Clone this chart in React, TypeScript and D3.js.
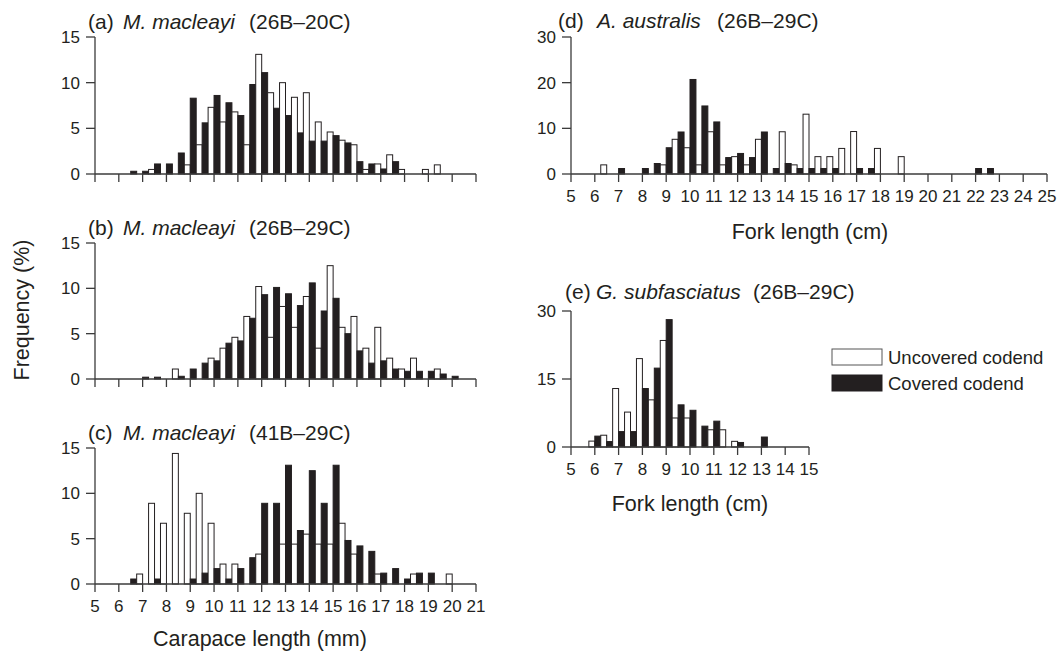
import React from 'react';
import * as d3 from 'd3';

// ---------- data (bin mid-points; uncovered bar drawn left of mid, covered right) ----------
const sizesMm = [6.5, 7, 7.5, 8, 8.5, 9, 9.5, 10, 10.5, 11, 11.5, 12, 12.5, 13, 13.5, 14, 14.5, 15, 15.5, 16, 16.5, 17, 17.5, 18, 18.5, 19, 19.5, 20];

const aUncovered = [0, 0, 0.5, 0, 0, 1.0, 3.2, 7.3, 5.7, 6.8, 3.2, 13.1, 8.9, 10.0, 8.4, 8.9, 5.7, 4.6, 3.7, 3.2, 0.5, 1.1, 2.1, 0.5, 0, 0.5, 1.0, 0];
const aCovered = [0.3, 0.3, 1.1, 1.1, 2.3, 8.3, 5.6, 8.6, 7.8, 6.4, 9.8, 11.1, 7.2, 6.4, 4.5, 3.6, 3.6, 4.2, 3.4, 1.35, 1.1, 0.55, 1.35, 0, 0, 0, 0, 0];

const bUncovered = [0, 0, 0, 0, 1.1, 0, 0, 2.3, 3.4, 4.6, 6.9, 10.2, 4.6, 8.0, 5.7, 9.1, 3.4, 12.5, 5.7, 6.9, 3.4, 5.7, 2.3, 1.1, 2.3, 0, 1.1, 0];
const bCovered = [0, 0.2, 0.2, 0, 0.3, 1.1, 1.75, 2.0, 3.95, 4.2, 6.7, 9.3, 10.1, 9.4, 8.1, 10.6, 7.5, 8.9, 5.0, 3.1, 1.75, 2.0, 1.1, 0.85, 0.85, 0.85, 0.55, 0.3];

const cUncovered = [0, 1.1, 8.9, 6.7, 14.4, 7.8, 10.0, 6.7, 2.2, 2.2, 0, 3.3, 0, 4.4, 4.4, 5.5, 4.4, 4.4, 6.7, 3.3, 0, 1.1, 0, 0, 1.1, 0, 0, 1.1];
const cCovered = [0.55, 0, 0.55, 0, 0, 0.55, 1.2, 1.7, 0.55, 1.7, 2.9, 8.9, 8.9, 13.1, 5.9, 12.5, 8.9, 13.1, 4.8, 4.2, 3.6, 1.2, 1.7, 0.55, 1.2, 1.2, 0, 0];

const sizesD = [6.5, 7, 7.5, 8, 8.5, 9, 9.5, 10, 10.5, 11, 11.5, 12, 12.5, 13, 13.5, 14, 14.5, 15, 15.5, 16, 16.5, 17, 17.5, 18, 18.5, 19, 19.5, 20, 20.5, 21, 21.5, 22, 22.5];
const dUncovered = [2.0, 0, 0, 0, 0, 2.0, 7.6, 5.75, 2.0, 9.25, 2.0, 3.8, 2.0, 7.6, 0, 9.25, 2.0, 13.1, 3.8, 3.8, 5.6, 9.3, 0, 5.6, 0, 3.8, 0, 0, 0, 0, 0, 0, 0];
const dCovered = [0, 1.2, 0, 1.2, 2.3, 5.75, 9.2, 20.7, 14.9, 11.4, 3.6, 4.5, 3.6, 9.2, 1.2, 2.3, 1.2, 1.2, 1.2, 1.2, 0, 1.2, 1.2, 0, 0, 0, 0, 0, 0, 0, 0, 1.2, 1.2];

const sizesE = [6, 6.5, 7, 7.5, 8, 8.5, 9, 9.5, 10, 10.5, 11, 11.5, 12, 12.5, 13];
const eUncovered = [1.3, 2.6, 12.9, 7.7, 19.5, 10.4, 23.5, 6.4, 6.4, 0, 3.8, 3.8, 1.25, 0, 0];
const eCovered = [2.4, 1.2, 3.4, 3.4, 12.9, 17.4, 28.1, 9.3, 8.1, 4.6, 5.7, 0, 1.0, 0, 2.2];

const xTicksMm = [5, 6, 7, 8, 9, 10, 11, 12, 13, 14, 15, 16, 17, 18, 19, 20, 21];
const xTicksD = [5, 6, 7, 8, 9, 10, 11, 12, 13, 14, 15, 16, 17, 18, 19, 20, 21, 22, 23, 24, 25];
const xTicksE = [5, 6, 7, 8, 9, 10, 11, 12, 13, 14, 15];
const yTicksMm = [0, 5, 10, 15];
const yTicksD = [0, 10, 20, 30];
const yTicksE = [0, 15, 30];

const legendLabels = ['Uncovered codend', 'Covered codend'];

// ---------- styling ----------
const INK = '#231f20';
const AXIS = '#3b3b3b';
const FONT = '"Liberation Sans", Arial, Helvetica, sans-serif';
const TICK_FS = 17;
const TITLE_FS = 21;
const AXT_FS = 21.5;

type PanelProps = {
  x0: number; x1: number; yTop: number; yBase: number;
  xDomain: [number, number]; yMax: number;
  xTicks: number[]; yTicks: number[]; showXLabels: boolean;
  sizes: number[]; unc: number[]; cov: number[];
  binW: number;
};

function Panel(p: PanelProps) {
  const x = d3.scaleLinear().domain(p.xDomain).range([p.x0, p.x1]);
  const y = d3.scaleLinear().domain([0, p.yMax]).range([p.yBase, p.yTop]);
  const half = p.binW / 2;
  return (
    <g>
      {p.sizes.map((s, i) => (
        <g key={i}>
          {p.unc[i] > 0 && (
            <rect x={x(s - half)} y={y(p.unc[i])} width={x(s) - x(s - half)} height={y(0) - y(p.unc[i])}
              fill="#ffffff" stroke={INK} strokeWidth={1} />
          )}
          {p.cov[i] > 0 && (
            <rect x={x(s)} y={y(p.cov[i])} width={x(s + half) - x(s)} height={y(0) - y(p.cov[i])}
              fill={INK} stroke={INK} strokeWidth={1} />
          )}
        </g>
      ))}
      <line x1={x(p.xDomain[0])} x2={x(p.xDomain[0])} y1={y(p.yMax)} y2={y(0)} stroke={AXIS} strokeWidth={1.3} />
      <line x1={x(p.xDomain[0])} x2={x(p.xDomain[1])} y1={y(0)} y2={y(0)} stroke={AXIS} strokeWidth={1.3} />
      {p.xTicks.map((t) => (
        <g key={'xt' + t}>
          <line x1={x(t)} x2={x(t)} y1={y(0)} y2={y(0) + 8} stroke={AXIS} strokeWidth={1.3} />
          {p.showXLabels && (
            <text x={x(t)} y={y(0) + 28} textAnchor="middle" fontSize={TICK_FS} fill={INK} fontFamily={FONT}>{t}</text>
          )}
        </g>
      ))}
      {p.yTicks.map((t) => (
        <g key={'yt' + t}>
          <line x1={x(p.xDomain[0]) - 9} x2={x(p.xDomain[0])} y1={y(t)} y2={y(t)} stroke={AXIS} strokeWidth={1.3} />
          <text x={x(p.xDomain[0]) - 15} y={y(t) + 6} textAnchor="end" fontSize={TICK_FS} fill={INK} fontFamily={FONT}>{t}</text>
        </g>
      ))}
    </g>
  );
}

function Title({ x, y, tag, species, code, sx, cx }: { x: number; y: number; tag: string; species: string; code: string; sx: number; cx: number }) {
  return (
    <g fontFamily={FONT} fontSize={TITLE_FS} fill={INK}>
      <text x={x} y={y}>{tag}</text>
      <text x={sx} y={y} fontStyle="italic">{species}</text>
      <text x={cx} y={y}>{code}</text>
    </g>
  );
}

export default function App() {
  return (
    <svg width={1057} height={659} style={{ position: 'absolute', left: 0, top: 0, background: '#fff' }}>
      <rect x={0} y={0} width={1057} height={659} fill="#fff" />
      {/* (a) */}
      <Title x={88} y={29} tag="(a)" species="M. macleayi" code="(26B–20C)" sx={123} cx={249} />
      <Panel x0={95} x1={476} yTop={37} yBase={174} xDomain={[5, 21]} yMax={15}
        xTicks={xTicksMm} yTicks={yTicksMm} showXLabels={false} sizes={sizesMm} unc={aUncovered} cov={aCovered} binW={0.5} />
      {/* (b) */}
      <Title x={88} y={235} tag="(b)" species="M. macleayi" code="(26B–29C)" sx={123} cx={249} />
      <Panel x0={95} x1={476} yTop={243} yBase={379} xDomain={[5, 21]} yMax={15}
        xTicks={xTicksMm} yTicks={yTicksMm} showXLabels={false} sizes={sizesMm} unc={bUncovered} cov={bCovered} binW={0.5} />
      {/* (c) */}
      <Title x={88} y={440} tag="(c)" species="M. macleayi" code="(41B–29C)" sx={123} cx={249} />
      <Panel x0={95} x1={476} yTop={448} yBase={584} xDomain={[5, 21]} yMax={15}
        xTicks={xTicksMm} yTicks={yTicksMm} showXLabels={true} sizes={sizesMm} unc={cUncovered} cov={cCovered} binW={0.5} />
      <text x={260} y={646} textAnchor="middle" fontSize={AXT_FS} fill={INK} fontFamily={FONT}>Carapace length (mm)</text>
      <text transform="translate(29,310) rotate(-90)" textAnchor="middle" fontSize={AXT_FS} fill={INK} fontFamily={FONT}>Frequency (%)</text>

      {/* (d) */}
      <Title x={558} y={28} tag="(d)" species="A. australis" code="(26B–29C)" sx={597} cx={717} />
      <Panel x0={571} x1={1047} yTop={37} yBase={174} xDomain={[5, 25]} yMax={30}
        xTicks={xTicksD} yTicks={yTicksD} showXLabels={true} sizes={sizesD} unc={dUncovered} cov={dCovered} binW={0.5} />
      <text x={810} y={239} textAnchor="middle" fontSize={AXT_FS} fill={INK} fontFamily={FONT}>Fork length (cm)</text>

      {/* (e) */}
      <Title x={565} y={299} tag="(e)" species="G. subfasciatus" code="(26B–29C)" sx={596} cx={753} />
      <Panel x0={571} x1={809} yTop={311} yBase={447} xDomain={[5, 15]} yMax={30}
        xTicks={xTicksE} yTicks={yTicksE} showXLabels={true} sizes={sizesE} unc={eUncovered} cov={eCovered} binW={0.5} />
      <text x={690} y={511} textAnchor="middle" fontSize={AXT_FS} fill={INK} fontFamily={FONT}>Fork length (cm)</text>

      {/* legend */}
      {legendLabels.map((lab, i) => (
        <g key={lab}>
          <rect x={832} y={349 + i * 26} width={50} height={16} fill={i === 0 ? '#fff' : INK} stroke={i === 0 ? '#555' : INK} strokeWidth={1} />
          <text x={888} y={364 + i * 26} fontSize={18.5} fill={INK} fontFamily={FONT}>{lab}</text>
        </g>
      ))}
    </svg>
  );
}
